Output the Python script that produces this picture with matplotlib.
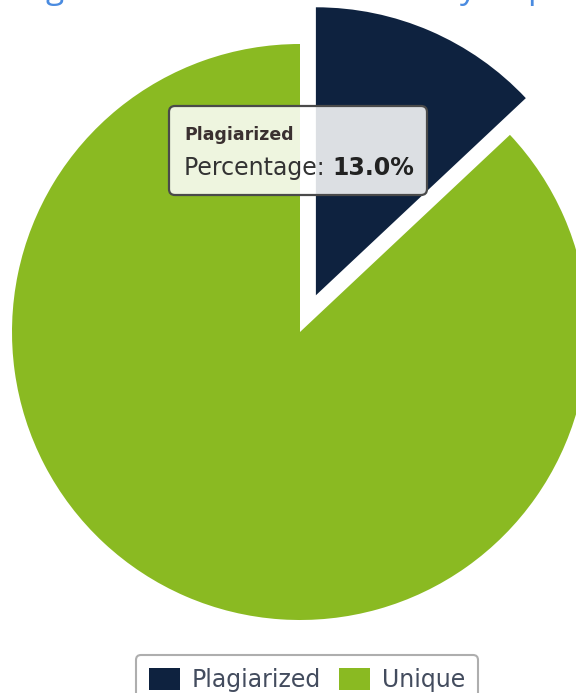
import matplotlib
matplotlib.use("Agg")
import matplotlib.pyplot as plt
from matplotlib.patches import FancyBboxPatch, Patch

# ---- data ----
categories = ["Plagiarized", "Unique"]
percentages = [13.0, 87.0]
colors = ["#0e223f", "#8aba22"]
tooltip_title = "Plagiarized"
tooltip_label = "Percentage: "
tooltip_value = "13.0%"
title_fragments = ["g", "y", "p"]

W, H = 576, 693
fig = plt.figure(figsize=(W / 100, H / 100), dpi=100)
ax = fig.add_axes([0, 0, 1, 1])

cx, cy, r = 300, H - 332, 288
ax.pie(percentages, colors=colors, startangle=90, counterclock=False,
       explode=[40, 0.0], radius=r, center=(cx, cy),
       wedgeprops=dict(linewidth=0))
ax.set_xlim(0, W)
ax.set_ylim(0, H)
ax.set_aspect("equal")
ax.axis("off")

# clipped title fragments at the very top (only their descenders show)
for ch, x in zip(title_fragments, [55, 467, 537]):
    ax.text(x, H + 2.5, ch, fontsize=24, color="#4a8be0", family="Open Sans",
            ha="center", va="baseline", clip_on=False)

# tooltip
bx, by, bw, bh = 169, H - 195, 258, 89
box = FancyBboxPatch((bx, by), bw, bh,
                     boxstyle="round,pad=0,rounding_size=6",
                     facecolor="white", alpha=0.86, edgecolor="none", zorder=5)
ax.add_patch(box)
box2 = FancyBboxPatch((bx, by), bw, bh,
                      boxstyle="round,pad=0,rounding_size=6",
                      facecolor="none", edgecolor="#4a4a4a", linewidth=1.6, zorder=6)
ax.add_patch(box2)
ax.text(184, H - 135, tooltip_title, fontsize=12.5, color="#3a3030",
        family="DejaVu Sans", fontweight="bold", ha="left", va="center", zorder=7)
t = ax.text(184, H - 168, tooltip_label, fontsize=17, color="#333333",
            family="DejaVu Sans", ha="left", va="center", zorder=7)
ax.annotate(tooltip_value, xy=(1, 0.5), xycoords=t, xytext=(0, 0),
            textcoords="offset points", fontsize=17, color="#222222",
            family="DejaVu Sans", fontweight="bold", ha="left", va="center",
            zorder=7)

# legend
handles = [Patch(facecolor=c, edgecolor="none") for c in colors]
leg = ax.legend(handles, categories, loc="upper center",
                bbox_to_anchor=(307, H - 643), bbox_transform=ax.transData,
                ncol=2, frameon=True, fancybox=True,
                handlelength=1.3, handleheight=1.1, handletextpad=0.5,
                columnspacing=0.8, borderpad=0.55, labelcolor="#434c5e",
                prop=dict(family="DejaVu Sans", size=17))
leg.get_frame().set_edgecolor("#9a9a9a")
leg.get_frame().set_linewidth(1.5)

fig.savefig("out.png", dpi=100)
